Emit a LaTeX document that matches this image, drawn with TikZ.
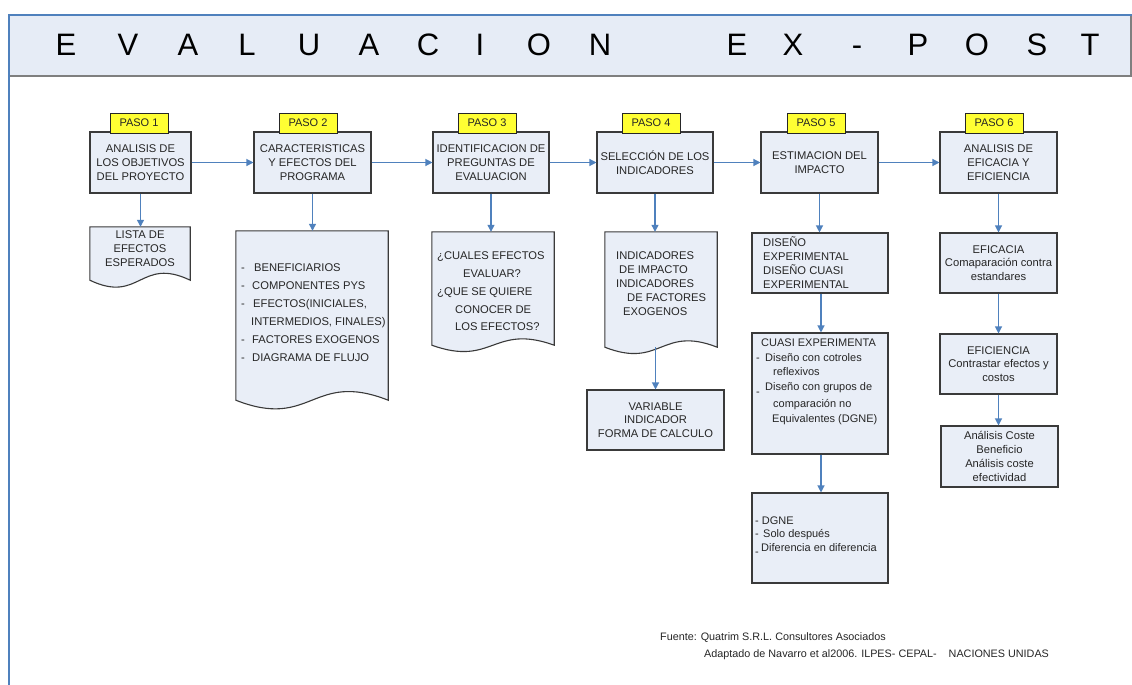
\documentclass[tikz,border=0pt]{standalone}
\usepackage{fontspec}
\setmainfont{Liberation Sans}
\usetikzlibrary{arrows.meta,calc}
\definecolor{frameblue}{HTML}{4F81BD}
\definecolor{arrowblue}{HTML}{4F81BD}
\definecolor{boxfill}{HTML}{E9EEF7}
\definecolor{bandfill}{HTML}{E6ECF6}
\definecolor{bandedge}{HTML}{7F7F7F}
\definecolor{tagyellow}{HTML}{FFFF33}
\definecolor{edge}{HTML}{3A3A3A}
\definecolor{ink}{HTML}{262626}

% document (wavy-bottom) outline for a named frame node, #2 = wave depth
\newcommand\docoutline[2]{%
  \path[draw=edge, line width=1.1pt, fill=boxfill, line join=miter]
    (#1.north west) -- (#1.south west)
    .. controls ($(#1.south)+(0,#2)$) and ($(#1.south)+(0,-#2)$) .. (#1.south east)
    -- (#1.north east) -- cycle;}

\begin{document}
\begin{tikzpicture}[x=1pt, y=-1pt,
  boxtext/.style={text=ink, font=\fontsize{11.2}{13.8}\selectfont},
  stepbox/.style={boxtext, draw=edge, line width=1.1pt, fill=boxfill,
    minimum height=61, inner sep=0pt, align=center},
  plainbox/.style={boxtext, draw=edge, line width=1.1pt, fill=boxfill,
    inner sep=0pt, align=center},
  docframe/.style={inner sep=0pt, draw=none},
  tagbox/.style={draw=black!85, line width=0.8pt, fill=tagyellow,
    minimum width=58, minimum height=20, inner sep=0pt, text=ink,
    font=\fontsize{11}{13}\selectfont},
  titlech/.style={anchor=base, text=black, font=\fontsize{31}{34}\selectfont},
  arr/.style={draw=arrowblue, line width=1.2pt,
    -{Triangle[length=7pt,width=7pt]}, shorten >=0pt},
  note/.style={text=ink, font=\fontsize{10.8}{17}\selectfont, align=left, inner sep=0pt}
]
\useasboundingbox (0,0) rectangle (1132,685);
\fill[white] (0,0) rectangle (1132,685);

% title band
\fill[bandfill] (9,15) rectangle (1131,77);
\draw[bandedge, line width=2pt] (9,76) -- (1131,76) -- (1131,15);
\draw[frameblue, line width=2pt] (9,685) -- (9,15) -- (1132,15);
\foreach \ch/\x [count=\i] in {E/66,V/128,A/188,L/247,U/309,A/369,C/428,I/480,O/539,N/600,
                               E/737,X/793,-/857,P/918,O/977,S/1037,T/1090}
  \node[titlech] (title\i) at (\x,56) {\ch};

% main steps
\node[stepbox, minimum width=101] (s1) at (140.5,162.5) {ANALISIS DE\\LOS OBJETIVOS\\DEL PROYECTO};
\node[stepbox, minimum width=117] (s2) at (312.5,162.5) {CARACTERISTICAS\\Y EFECTOS DEL\\PROGRAMA};
\node[stepbox, minimum width=116] (s3) at (491,162.5) {IDENTIFICACION DE\\PREGUNTAS DE\\EVALUACION};
\node[stepbox, minimum width=116] (s4) at (655,162.5) {SELECCIÓN DE LOS\\INDICADORES};
\node[stepbox, minimum width=117] (s5) at (819.5,162.5) {ESTIMACION DEL\\IMPACTO};
\node[stepbox, minimum width=117] (s6) at (998.5,162.5) {ANALISIS DE\\EFICACIA Y\\EFICIENCIA};

\node[tagbox] (p1) at (139,123) {PASO 1};
\node[tagbox] (p2) at (308,123) {PASO 2};
\node[tagbox] (p3) at (487,123) {PASO 3};
\node[tagbox] (p4) at (651,123) {PASO 4};
\node[tagbox] (p5) at (816,123) {PASO 5};
\node[tagbox] (p6) at (994,123) {PASO 6};

\draw[arr] (s1) -- (s2);
\draw[arr] (s2) -- (s3);
\draw[arr] (s3) -- (s4);
\draw[arr] (s4) -- (s5);
\draw[arr] (s5) -- (s6);

% documents below steps 1-4
\node[docframe, minimum width=100, minimum height=53] (d1) at (140,253.5) {};
\docoutline{d1}{24}
\node[boxtext, align=center, inner sep=0pt] (d1t) at (140,248.5) {LISTA DE\\EFECTOS\\ESPERADOS};

\node[docframe, minimum width=152, minimum height=169] (d2) at (312,315.5) {};
\docoutline{d2}{30}
\node[boxtext, align=left, inner sep=0pt, anchor=west,
      font=\fontsize{11.2}{18}\selectfont] (d2t) at (241,313)
  {\makebox[13pt][l]{-}BENEFICIARIOS\\
   \makebox[11pt][l]{-}COMPONENTES PYS\\
   \makebox[12pt][l]{-}EFECTOS(INICIALES,\\
   \hspace*{10pt}INTERMEDIOS, FINALES)\\
   \makebox[11pt][l]{-}FACTORES EXOGENOS\\
   \makebox[11pt][l]{-}DIAGRAMA DE FLUJO};

\node[docframe, minimum width=122, minimum height=113] (d3) at (493,288.5) {};
\docoutline{d3}{22}
\node[boxtext, align=left, inner sep=0pt, anchor=west,
      font=\fontsize{11.2}{17.8}\selectfont] (d3t) at (437,291.5)
  {¿CUALES EFECTOS\\
   \hspace*{26pt}EVALUAR?\\
   ¿QUE SE QUIERE\\
   \hspace*{18pt}CONOCER DE\\
   \hspace*{18pt}LOS EFECTOS?};

\node[docframe, minimum width=112, minimum height=115] (d4) at (661,289.5) {};
\docoutline{d4}{22}
\node[boxtext, align=left, inner sep=0pt, anchor=west,
      font=\fontsize{11.2}{14}\selectfont] (d4t) at (616,284)
  {INDICADORES\\
   \hspace*{3pt}DE IMPACTO\\
   INDICADORES\\
   \hspace*{11pt}DE FACTORES\\
   \hspace*{7pt}EXOGENOS};

\node[plainbox, minimum width=137, minimum height=60] (var) at (655.5,420)
  {VARIABLE\\INDICADOR\\FORMA DE CALCULO};

\draw[arr] (s1.south) -- (s1.south |- d1.north);
\draw[arr] (s2.south) -- (s2.south |- d2.north);
\draw[arr] (s3.south) -- (s3.south |- d3.north);
\draw[arr] (s4.south) -- (s4.south |- d4.north);
\draw[arr] (var.north |- d4.south) -- (var.north);

% step 5 column
\node[plainbox, minimum width=136, minimum height=60] (dis) at (820,263) {};
\node[boxtext, align=left, inner sep=0pt, anchor=west,
      font=\fontsize{11.2}{14}\selectfont] (dist) at (763,262.5)
  {DISEÑO\\EXPERIMENTAL\\DISEÑO CUASI\\EXPERIMENTAL};

\node[plainbox, minimum width=136, minimum height=121] (cua) at (820,393.5) {};
\node[boxtext, align=left, inner sep=0pt, anchor=north west,
      font=\fontsize{11}{14.5}\selectfont] (cuat) at (756,339)
  {\hspace*{5pt}CUASI EXPERIMENTA\\
   \makebox[9pt][l]{-}Diseño con cotroles\\
   \hspace*{17pt}reflexivos\\
   \makebox[9pt][l]{\raisebox{-5pt}{-}}Diseño con grupos de\\[3pt]
   \hspace*{17pt}comparación no\\
   \hspace*{16pt}Equivalentes (DGNE)};

\node[plainbox, minimum width=136, minimum height=90] (dgn) at (820,538) {};
\node[boxtext, align=left, inner sep=0pt, anchor=west,
      font=\fontsize{11}{13.5}\selectfont] (dgnt) at (755,536)
  {- DGNE\\
   \makebox[6pt][l]{-}\hspace*{2pt}Solo después\\
   \makebox[6pt][l]{\raisebox{-4pt}{-}}Diferencia en diferencia};

\draw[arr] (s5.south) -- (s5.south |- dis.north);
\draw[arr] ([xshift=1pt]dis.south) -- ([xshift=1pt]cua.north);
\draw[arr] ([xshift=1pt]cua.south) -- ([xshift=1pt]dgn.north);

% step 6 column
\node[plainbox, minimum width=117, minimum height=60] (efa) at (998.5,263)
  {EFICACIA\\Comaparación contra\\estandares};
\node[plainbox, minimum width=117, minimum height=60] (efi) at (998.5,364)
  {EFICIENCIA\\Contrastar efectos y\\costos};
\node[plainbox, minimum width=117, minimum height=61] (acb) at (999.5,456.5)
  {Análisis Coste\\Beneficio\\Análisis coste\\efectividad};

\draw[arr] (s6.south) -- (s6.south |- efa.north);
\draw[arr] (efa.south) -- (efa.south |- efi.north);
\draw[arr] (efi.south) -- (efi.south |- acb.north);

% source note
\node[note, anchor=north west] (src) at (660,632)
  {Fuente: Quatrim S.R.L. Consultores Asociados\\
   \hspace*{44pt}Adaptado de Navarro et al2006. ILPES- CEPAL-\ \ \ \ NACIONES UNIDAS};
\end{tikzpicture}
\end{document}
